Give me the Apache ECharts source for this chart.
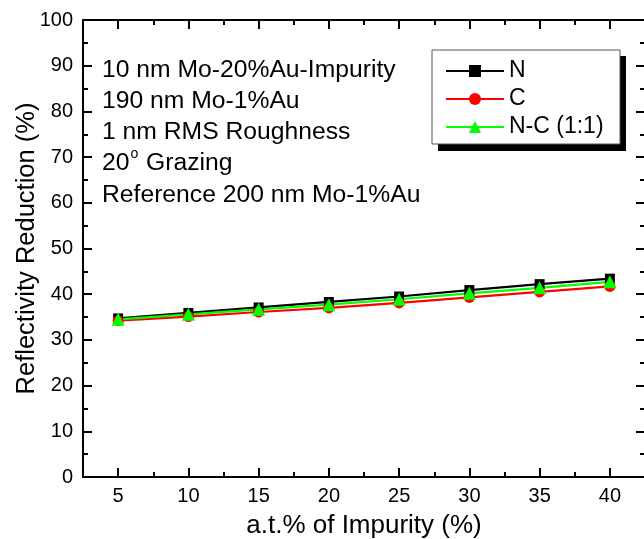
<!DOCTYPE html>
<html>
<head>
<meta charset="utf-8">
<script src="https://cdn.jsdelivr.net/npm/echarts@6/dist/echarts.min.js"></script>
<style>
html,body{margin:0;padding:0;background:#fff;}
#chart{width:644px;height:539px;}
</style>
</head>
<body>
<div id="chart"></div>
<script>
// ---- data ----
var impurity = [5, 10, 15, 20, 25, 30, 35, 40];
var seriesN  = [34.7, 35.9, 37.1, 38.3, 39.5, 40.9, 42.2, 43.4];
var seriesC  = [34.2, 35.1, 36.1, 37.0, 38.1, 39.3, 40.5, 41.7];
var seriesNC = [34.5, 35.6, 36.7, 37.7, 38.9, 40.2, 41.4, 42.7];
var seriesNames = ['N', 'C', 'N-C (1:1)'];
var xMajorTicks = [5, 10, 15, 20, 25, 30, 35, 40];
var annotations = ['10 nm Mo-20%Au-Impurity', '190 nm Mo-1%Au', '1 nm RMS Roughness', '20{sup|o} Grazing', 'Reference 200 nm Mo-1%Au'];
var xTitle = 'a.t.% of Impurity (%)';
var yTitle = 'Reflectivity Reduction (%)';

var FONT = '"Liberation Sans", Arial, Helvetica, sans-serif';

function pairs(xs, ys) { return xs.map(function (x, i) { return [x, ys[i]]; }); }

var chart = echarts.init(document.getElementById('chart'), null, {renderer: 'canvas'});

function minorX(pos, showLabel, extra) {
  return Object.assign({
    type: 'value', position: pos, min: 2.5, max: 42.5, interval: 2.5,
    axisLine: {show: true, onZero: false, lineStyle: {color: '#000', width: 2}},
    axisTick: {show: true, inside: true, length: 5, lineStyle: {color: '#000', width: 2}},
    axisLabel: {show: showLabel, margin: 9, color: '#000', fontSize: 20, fontFamily: FONT,
      formatter: function (v) { return (Math.abs(v % 5) < 1e-9) ? String(v) : ''; }},
    splitLine: {show: false}
  }, extra || {});
}
function majorX(pos) {
  return {
    type: 'value', position: pos, min: 2.5, max: 42.5, interval: 2.5,
    axisLine: {show: false, onZero: false},
    axisTick: {show: true, inside: true, length: 9, customValues: xMajorTicks, lineStyle: {color: '#000', width: 2}},
    axisLabel: {show: false},
    splitLine: {show: false}
  };
}
function yAx(pos, showLabel) {
  return {
    type: 'value', position: pos, min: 0, max: 100, interval: 10,
    axisLine: {show: true, onZero: false, lineStyle: {color: '#000', width: 2}},
    axisTick: {show: true, inside: true, length: 9, lineStyle: {color: '#000', width: 2}},
    minorTick: {show: true, splitNumber: 2, length: 5, lineStyle: {color: '#000', width: 2}},
    axisLabel: {show: showLabel, margin: 10, color: '#000', fontSize: 20, fontFamily: FONT},
    splitLine: {show: false},
    name: showLabel ? yTitle : '',
    nameLocation: 'middle', nameGap: 43, nameRotate: 90, nameMoveOverlap: false,
    nameTextStyle: {color: '#000', fontSize: 25.5, fontFamily: FONT}
  };
}

var xBottom = minorX('bottom', true, {
  name: xTitle, nameLocation: 'middle', nameGap: 36, nameMoveOverlap: false,
  nameTextStyle: {color: '#000', fontSize: 26, fontFamily: FONT}
});

var graphics = [
  {type: 'rect', z: 10, shape: {x: 438, y: 56, width: 188, height: 95}, style: {fill: '#000'}},
  {type: 'rect', z: 11, shape: {x: 432, y: 50, width: 188, height: 94}, style: {fill: '#fff', stroke: '#555', lineWidth: 1}}
];
var annY = [70, 101, 132, 163, 195];
annotations.forEach(function (t, i) {
  graphics.push({
    type: 'text', z: 12, x: 102, y: annY[i],
    style: {
      text: t, fill: '#000', font: '24.7px ' + FONT, verticalAlign: 'middle', align: 'left',
      rich: {sup: {fontSize: 14, fontFamily: FONT, verticalAlign: 'top', padding: [0, 1, 17, 1], fill: '#000'}}
    }
  });
});

var option = {
  backgroundColor: '#fff',
  animation: false,
  grid: {left: 83, right: -1, top: 20, bottom: 62, containLabel: false, outerBoundsMode: 'none'},
  xAxis: [xBottom, majorX('bottom'), minorX('top', false), majorX('top')],
  yAxis: [yAx('left', true), yAx('right', false)],
  legend: {
    orient: 'vertical', left: 445, top: 59, z: 20, padding: 0,
    itemWidth: 58, itemHeight: 15, itemGap: 4,
    textStyle: {color: '#000', fontSize: 23, fontFamily: FONT, lineHeight: 24},
    data: seriesNames
  },
  graphic: graphics,
  series: [
    {name: seriesNames[0], type: 'line', xAxisIndex: 0, yAxisIndex: 0, data: pairs(impurity, seriesN),
      symbol: 'rect', symbolSize: 10, itemStyle: {color: '#000'}, lineStyle: {color: '#000', width: 2.2}},
    {name: seriesNames[1], type: 'line', xAxisIndex: 0, yAxisIndex: 0, data: pairs(impurity, seriesC),
      symbol: 'circle', symbolSize: 11, itemStyle: {color: '#ff0000'}, lineStyle: {color: '#ff0000', width: 2.2}},
    {name: seriesNames[2], type: 'line', xAxisIndex: 0, yAxisIndex: 0, data: pairs(impurity, seriesNC),
      symbol: 'triangle', symbolSize: 13, itemStyle: {color: '#00ff00'}, lineStyle: {color: '#00ff00', width: 2.2}}
  ]
};
chart.setOption(option);
</script>
</body>
</html>
